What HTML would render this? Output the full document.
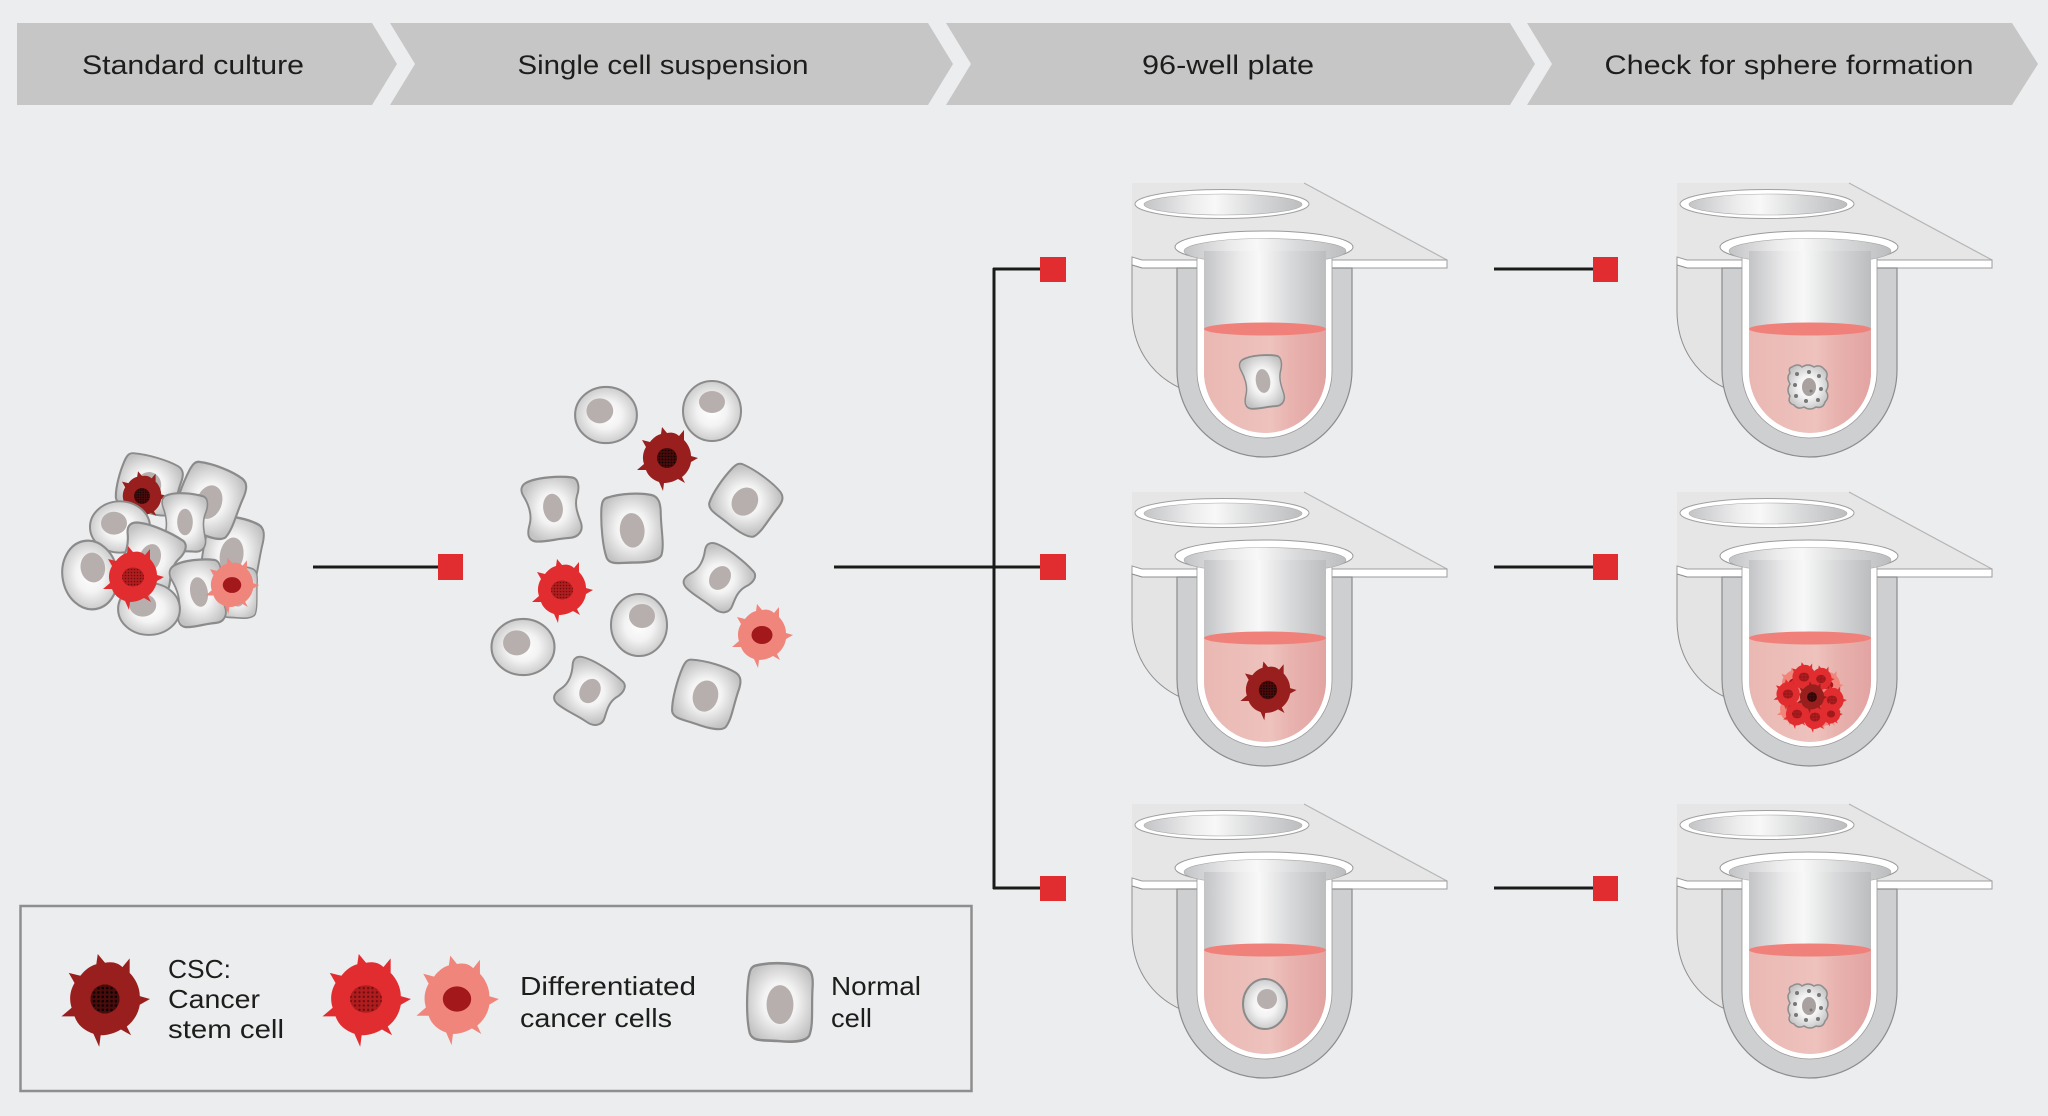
<!DOCTYPE html>
<html>
<head>
<meta charset="utf-8">
<style>
html,body{margin:0;padding:0;background:#ecedef;}
svg{display:block;}
text{font-family:"Liberation Sans",sans-serif;fill:#1d1d1b;}
</style>
</head>
<body>
<svg width="2048" height="1116" viewBox="0 0 2048 1116" xmlns="http://www.w3.org/2000/svg">
<defs>
  <linearGradient id="tg" x1="0" x2="1" y1="0" y2="0">
    <stop offset="0" stop-color="#c3c4c6"/>
    <stop offset="0.3" stop-color="#ececed"/>
    <stop offset="0.45" stop-color="#f8f8f8"/>
    <stop offset="0.7" stop-color="#d9dadb"/>
    <stop offset="1" stop-color="#bcbdbf"/>
  </linearGradient>
  <linearGradient id="lg" x1="0" x2="1" y1="0" y2="0">
    <stop offset="0" stop-color="#eab8b3"/>
    <stop offset="0.55" stop-color="#eec2bd"/>
    <stop offset="0.72" stop-color="#e8b2ae"/>
    <stop offset="1" stop-color="#e2a4a2"/>
  </linearGradient>
  <radialGradient id="cg" cx="0.5" cy="0.5" r="0.56">
    <stop offset="0" stop-color="#ffffff"/>
    <stop offset="0.45" stop-color="#f3f3f3"/>
    <stop offset="1" stop-color="#c3c3c3"/>
  </radialGradient>
  <pattern id="dk" width="3" height="3" patternUnits="userSpaceOnUse">
    <rect width="3" height="3" fill="#4a0b0b"/><circle cx="1.5" cy="1.5" r="0.9" fill="#0e0303"/>
  </pattern>
  <pattern id="rd" width="3" height="3" patternUnits="userSpaceOnUse">
    <rect width="3" height="3" fill="#b01d1f"/><circle cx="1.5" cy="1.5" r="0.8" fill="#6e0d0e"/>
  </pattern>

  <path id="spk" d="M-6,-24 L-5,-31 L0,-25 C5,-26 9,-25 12,-22 L17,-28 L17,-18 C21,-14 24,-8 24,-2 L31,0 L24,4 C23,10 20,15 15,19 L18,25 L11,21 C6,24 1,25 -3,25 L-4,33 L-8,24 C-14,22 -19,18 -21,12 L-30,12 L-23,6 C-25,0 -24,-6 -21,-11 L-25,-18 L-17,-16 C-14,-20 -10,-23 -6,-24 Z"/>

  <g id="csc"><use href="#spk" fill="#981f1d"/><circle r="10" fill="url(#dk)"/></g>
  <g id="red"><use href="#spk" fill="#e22d30"/><ellipse rx="11" ry="9.5" fill="url(#rd)"/></g>
  <g id="pnk"><use href="#spk" fill="#f0857c"/><ellipse rx="10.5" ry="9" fill="#a3181a"/></g>

  <g id="n1"><ellipse rx="30" ry="27" fill="url(#cg)" stroke="#8b8b8b" stroke-width="2"/><ellipse cx="-6" cy="-4" rx="13" ry="12" fill="#b7afad"/></g>
  <g id="n2"><path d="M-22,-28 C-8,-31 12,-30 22,-27 C28,-25 30,-20 29,-10 C28,5 30,18 26,26 C22,31 10,31 -2,30 C-14,29 -24,31 -27,24 C-30,14 -30,-5 -28,-19 C-27,-24 -26,-27 -22,-28 Z" fill="url(#cg)" stroke="#8b8b8b" stroke-width="2"/><ellipse cx="0" cy="2" rx="12" ry="15" fill="#b7afad"/></g>
  <g id="n3"><path d="M-24,-26 C-12,-30 12,-28 24,-25 C30,-23 30,-15 26,-8 C22,0 24,8 26,16 C28,24 22,30 12,29 C0,28 -12,30 -22,28 C-30,26 -30,20 -26,12 C-22,4 -24,-6 -28,-14 C-31,-20 -29,-24 -24,-26 Z" fill="url(#cg)" stroke="#8b8b8b" stroke-width="2"/><ellipse cx="0" cy="0" rx="10" ry="13" fill="#b7afad"/></g>

  <g id="sph">
    <path d="M-16,-20 Q-10,-24 -6,-20 Q0,-24 6,-20 Q12,-23 16,-18 Q21,-14 18,-8 Q22,-2 18,4 Q22,10 17,15 Q15,22 8,20 Q2,24 -4,20 Q-10,23 -14,18 Q-21,16 -18,9 Q-22,3 -18,-3 Q-22,-10 -18,-14 Q-20,-19 -16,-20 Z" fill="url(#cg)" stroke="#8e8e8e" stroke-width="1.5"/>
    <ellipse cx="1" cy="0" rx="7" ry="9" fill="#a9a1a0"/>
    <g fill="#777">
      <circle cx="-11" cy="-13" r="2"/><circle cx="1" cy="-15" r="2"/><circle cx="11" cy="-11" r="2"/>
      <circle cx="13" cy="2" r="2"/><circle cx="10" cy="13" r="2"/><circle cx="-2" cy="14" r="2"/>
      <circle cx="-12" cy="9" r="2"/><circle cx="-13" cy="-2" r="2"/><circle cx="3" cy="4" r="1.5"/>
    </g>
  </g>

  <g id="well">
    <path d="M0,0 H172 L315,77 H10 L0,74 Z" fill="#e6e6e7"/>
    <path d="M172,0 L315,77" stroke="#b5b5b5" stroke-width="1.2" fill="none"/>
    <path d="M0,74 L10,77 H315 V85 H10 L0,82 Z" fill="#fff" stroke="#9d9d9d" stroke-width="1"/>
    <path d="M0,82 V128 C0,165 20,192 48,205 V85 H10 Z" fill="#e4e4e5" stroke="#8f8f8f" stroke-width="1"/>
    <ellipse cx="90" cy="21" rx="87" ry="14.5" fill="#fff" stroke="#a0a0a0" stroke-width="1"/>
    <ellipse cx="91" cy="21.5" rx="79" ry="10.5" fill="url(#tg)" stroke="#a9a9a9" stroke-width="0.6"/>
    <path d="M45,85 V187 A87.5,87 0 0 0 220,187 V85 Z" fill="#cdcfd1" stroke="#8c8c8c" stroke-width="1.2"/>
    <path d="M65,75 V188 A67.5,67 0 0 0 200,188 V75 Z" fill="#fff" stroke="#9a9a9a" stroke-width="0.8"/>
    <ellipse cx="132" cy="64" rx="89" ry="16" fill="#fff" stroke="#9a9a9a" stroke-width="1"/>
    <rect x="66" y="66" width="133" height="22" fill="#fff"/>
    <ellipse cx="133" cy="68" rx="81" ry="12.5" fill="url(#tg)" stroke="#a8a8a8" stroke-width="0.6"/>
    <path d="M72,68 V189 A61,61 0 0 0 194,189 V68 Z" fill="url(#tg)"/>
    <path d="M72,146 V189 A61,61 0 0 0 194,189 V146 Z" fill="url(#lg)"/>
    <ellipse cx="133" cy="146" rx="61" ry="6.5" fill="#f0817a"/>
  </g>
</defs>

<!-- Banner chevrons -->
<g fill="#c6c6c6">
  <path d="M17,23 H372 L397,64 L372,105 H17 Z"/>
  <path d="M390,23 H928 L953,64 L928,105 H390 L415,64 Z"/>
  <path d="M946,23 H1510 L1535,64 L1510,105 H946 L971,64 Z"/>
  <path d="M1527,23 H2012 L2038,64 L2012,105 H1527 L1552,64 Z"/>
</g>
<g font-size="27" text-anchor="middle">
  <text x="193" y="74" textLength="222" lengthAdjust="spacingAndGlyphs">Standard culture</text>
  <text x="663" y="74" textLength="291" lengthAdjust="spacingAndGlyphs">Single cell suspension</text>
  <text x="1228" y="74" textLength="172" lengthAdjust="spacingAndGlyphs">96-well plate</text>
  <text x="1789" y="74" textLength="369" lengthAdjust="spacingAndGlyphs">Check for sphere formation</text>
</g>

<!-- Standard culture cluster -->
<g>
  <use href="#n2" transform="translate(232,553) rotate(10) scale(0.98,1.2)"/>
  <use href="#n2" transform="translate(210,500) rotate(20) scale(1.05,1.15)"/>
  <use href="#n2" transform="translate(149,484) rotate(15) scale(1.05,0.92)"/>
  <use href="#csc" transform="translate(142,496) scale(0.8)"/>
  <use href="#n1" transform="translate(120,527) scale(1,0.95)"/>
  <use href="#n3" transform="translate(185,522) scale(0.78,1.02)"/>
  <use href="#n1" transform="translate(90,575) rotate(80) scale(1.15,1.02)"/>
  <use href="#n3" transform="translate(150,558) rotate(20) scale(1.05,1.1)"/>
  <use href="#n2" transform="translate(238,592) scale(0.66,0.86)"/>
  <use href="#n3" transform="translate(199,592) rotate(-10) scale(0.88,1.15)"/>
  <use href="#n1" transform="translate(149,609) scale(1.03,0.96)"/>
  <use href="#red" transform="translate(133,577) scale(1.0)"/>
  <use href="#pnk" transform="translate(232,585) scale(0.88)"/>
</g>

<!-- connector 1 -->
<line x1="313" y1="567" x2="438" y2="567" stroke="#1a1a1a" stroke-width="3"/>
<rect x="438" y="554" width="25" height="26" fill="#e22d30"/>

<!-- Single cell suspension -->
<g>
  <use href="#n1" transform="translate(606,415) scale(1.03,1.04)"/>
  <g transform="translate(712,411)"><ellipse rx="29" ry="30" fill="url(#cg)" stroke="#8b8b8b" stroke-width="2"/><ellipse cx="0" cy="-9" rx="13" ry="11" fill="#b7afad"/></g>
  <use href="#csc" transform="translate(667,458)"/>
  <use href="#n3" transform="translate(553,508) rotate(-8) scale(0.98,1.1)"/>
  <use href="#n2" transform="translate(632,528) rotate(-5) scale(1.03,1.15)"/>
  <use href="#n2" transform="translate(746,500) rotate(35) scale(1.05,0.98)"/>
  <use href="#red" transform="translate(562,590)"/>
  <use href="#n3" transform="translate(720,578) rotate(35) scale(1.0,0.98)"/>
  <g transform="translate(639,625)"><ellipse rx="28" ry="31" fill="url(#cg)" stroke="#8b8b8b" stroke-width="2"/><ellipse cx="3" cy="-9" rx="13" ry="12" fill="#b7afad"/></g>
  <use href="#pnk" transform="translate(762,635)"/>
  <use href="#n1" transform="translate(523,647) scale(1.05,1.04)"/>
  <use href="#n3" transform="translate(590,691) rotate(30) scale(1.0,0.98)"/>
  <use href="#n2" transform="translate(706,694) rotate(15) scale(1.05,1.05)"/>
</g>

<!-- main connector tree -->
<g stroke="#1a1a1a" stroke-width="3" fill="none">
  <line x1="834" y1="567" x2="1040" y2="567"/>
  <line x1="994" y1="268" x2="994" y2="889"/>
  <line x1="993" y1="269" x2="1040" y2="269"/>
  <line x1="993" y1="888" x2="1040" y2="888"/>
  <line x1="1494" y1="269" x2="1593" y2="269"/>
  <line x1="1494" y1="567" x2="1593" y2="567"/>
  <line x1="1494" y1="888" x2="1593" y2="888"/>
</g>
<g fill="#e22d30">
  <rect x="1040" y="257" width="26" height="25"/>
  <rect x="1040" y="554" width="26" height="26"/>
  <rect x="1040" y="876" width="26" height="25"/>
  <rect x="1593" y="257" width="25" height="25"/>
  <rect x="1593" y="554" width="25" height="26"/>
  <rect x="1593" y="876" width="25" height="25"/>
</g>

<!-- wells -->
<use href="#well" transform="translate(1132,183)"/>
<use href="#well" transform="translate(1132,492)"/>
<use href="#well" transform="translate(1132,804)"/>
<use href="#well" transform="translate(1677,183)"/>
<use href="#well" transform="translate(1677,492)"/>
<use href="#well" transform="translate(1677,804)"/>

<!-- cells in wells -->
<use href="#n3" transform="translate(1263,381) rotate(-8) scale(0.72,0.92)"/>
<use href="#csc" transform="translate(1268,690) scale(0.92)"/>
<g transform="translate(1265,1004)"><ellipse rx="22" ry="25" fill="url(#cg)" stroke="#8b8b8b" stroke-width="2"/><ellipse cx="2" cy="-5" rx="10" ry="10" fill="#b7afad"/></g>

<use href="#sph" transform="translate(1808,387)"/>
<use href="#sph" transform="translate(1808,1006)"/>

<g transform="translate(1810,697)">
  <circle r="24" fill="#f0857c"/>
  <use href="#pnk" transform="translate(-16,-14) scale(0.5)"/>
  <use href="#pnk" transform="translate(18,-12) scale(0.5)"/>
  <use href="#pnk" transform="translate(-18,12) scale(0.5)"/>
  <use href="#pnk" transform="translate(16,16) scale(0.5)"/>
  <use href="#red" transform="translate(-6,-20) scale(0.48)"/>
  <use href="#red" transform="translate(11,-18) scale(0.44)"/>
  <use href="#red" transform="translate(-22,-3) scale(0.48)"/>
  <use href="#red" transform="translate(22,3) scale(0.48)"/>
  <use href="#red" transform="translate(-13,17) scale(0.46)"/>
  <use href="#red" transform="translate(5,20) scale(0.48)"/>
  <use href="#red" transform="translate(21,17) scale(0.38)"/>
  <use href="#csc" transform="translate(2,0) scale(0.5)"/>
</g>

<!-- Legend -->
<rect x="20.5" y="906" width="951" height="185" fill="none" stroke="#8e8e8e" stroke-width="2.5"/>
<use href="#csc" transform="translate(105,999) scale(1.45,1.45)"/>
<use href="#red" transform="translate(366,999) scale(1.45,1.45)"/>
<use href="#pnk" transform="translate(457,999) scale(1.35,1.4)"/>
<use href="#n2" transform="translate(780,1002) scale(1.12,1.3)"/>
<g font-size="26">
  <text x="168" y="978" textLength="63" lengthAdjust="spacingAndGlyphs">CSC:</text>
  <text x="168" y="1008" textLength="92" lengthAdjust="spacingAndGlyphs">Cancer</text>
  <text x="168" y="1038" textLength="116" lengthAdjust="spacingAndGlyphs">stem cell</text>
  <text x="520" y="995" textLength="176" lengthAdjust="spacingAndGlyphs">Differentiated</text>
  <text x="520" y="1027" textLength="152" lengthAdjust="spacingAndGlyphs">cancer cells</text>
  <text x="831" y="995" textLength="90" lengthAdjust="spacingAndGlyphs">Normal</text>
  <text x="831" y="1027" textLength="41" lengthAdjust="spacingAndGlyphs">cell</text>
</g>
</svg>
</body>
</html>
